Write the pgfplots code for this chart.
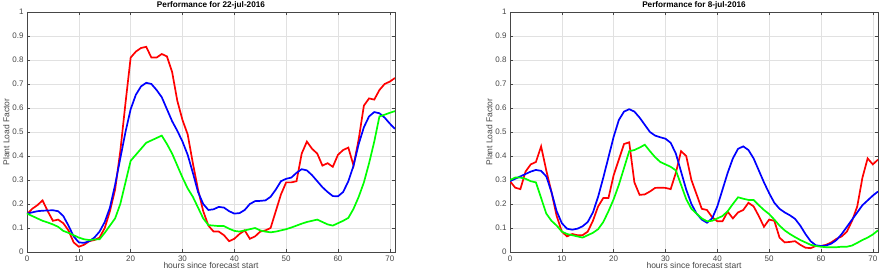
\documentclass[border=0pt]{standalone}
\usepackage{pgfplots}
\pgfplotsset{compat=1.18}
\usepackage{pgfplotstable}
\usepackage{fontspec}
\setmainfont{Liberation Sans}
\definecolor{axgray}{RGB}{70,70,70}
\definecolor{gridgray}{RGB}{225,225,225}
\pgfplotstableread{
h r b g
0 0.157 0.160 0.160
1 0.180 0.165 0.150
2 0.195 0.170 0.140
3 0.215 0.172 0.130
4 0.170 0.173 0.123
5 0.130 0.174 0.115
6 0.135 0.170 0.105
7 0.120 0.150 0.088
8 0.090 0.110 0.080
9 0.040 0.065 0.070
10 0.022 0.040 0.060
11 0.030 0.038 0.053
12 0.045 0.045 0.050
13 0.050 0.060 0.052
14 0.060 0.085 0.053
15 0.100 0.125 0.080
16 0.170 0.185 0.110
17 0.260 0.280 0.140
18 0.420 0.390 0.200
19 0.620 0.500 0.290
20 0.810 0.595 0.380
21 0.835 0.655 0.405
22 0.850 0.690 0.430
23 0.855 0.705 0.455
24 0.810 0.700 0.465
25 0.810 0.675 0.475
26 0.825 0.645 0.485
27 0.815 0.595 0.450
28 0.750 0.545 0.410
29 0.630 0.505 0.360
30 0.550 0.460 0.310
31 0.490 0.405 0.265
32 0.370 0.330 0.230
33 0.260 0.250 0.185
34 0.170 0.200 0.140
35 0.110 0.175 0.112
36 0.085 0.178 0.110
37 0.085 0.188 0.108
38 0.070 0.185 0.108
39 0.045 0.170 0.097
40 0.055 0.160 0.088
41 0.075 0.162 0.085
42 0.090 0.175 0.090
43 0.055 0.200 0.095
44 0.065 0.212 0.100
45 0.085 0.213 0.090
46 0.090 0.215 0.085
47 0.100 0.230 0.082
48 0.170 0.260 0.085
49 0.240 0.295 0.090
50 0.290 0.305 0.095
51 0.290 0.310 0.102
52 0.295 0.330 0.110
53 0.410 0.345 0.118
54 0.460 0.340 0.125
55 0.430 0.320 0.130
56 0.410 0.295 0.135
57 0.360 0.270 0.125
58 0.370 0.250 0.115
59 0.355 0.233 0.110
60 0.405 0.232 0.120
61 0.425 0.250 0.130
62 0.435 0.295 0.142
63 0.360 0.360 0.180
64 0.470 0.450 0.230
65 0.610 0.520 0.290
66 0.640 0.565 0.370
67 0.635 0.583 0.460
68 0.675 0.578 0.565
69 0.700 0.560 0.572
70 0.710 0.535 0.580
71 0.725 0.513 0.587
}\left
\pgfplotstableread{
h r b g
0 0.295 0.295 0.300
1 0.268 0.305 0.310
2 0.262 0.315 0.310
3 0.335 0.325 0.305
4 0.365 0.335 0.295
5 0.375 0.342 0.290
6 0.440 0.338 0.225
7 0.340 0.315 0.160
8 0.250 0.250 0.130
9 0.150 0.170 0.110
10 0.085 0.120 0.085
11 0.065 0.097 0.075
12 0.075 0.093 0.070
13 0.070 0.097 0.065
14 0.070 0.107 0.060
15 0.085 0.125 0.070
16 0.130 0.165 0.080
17 0.190 0.230 0.095
18 0.225 0.310 0.125
19 0.225 0.395 0.170
20 0.320 0.480 0.220
21 0.385 0.550 0.280
22 0.450 0.585 0.350
23 0.457 0.595 0.420
24 0.290 0.585 0.425
25 0.238 0.560 0.435
26 0.240 0.530 0.447
27 0.252 0.500 0.420
28 0.267 0.485 0.395
29 0.268 0.478 0.375
30 0.267 0.472 0.365
31 0.262 0.455 0.355
32 0.330 0.410 0.340
33 0.420 0.335 0.280
34 0.400 0.260 0.220
35 0.300 0.200 0.180
36 0.240 0.160 0.160
37 0.180 0.135 0.140
38 0.175 0.122 0.128
39 0.145 0.140 0.130
40 0.128 0.190 0.140
41 0.128 0.260 0.150
42 0.168 0.330 0.170
43 0.140 0.390 0.200
44 0.165 0.430 0.228
45 0.175 0.440 0.222
46 0.205 0.425 0.217
47 0.190 0.390 0.217
48 0.150 0.340 0.195
49 0.105 0.290 0.175
50 0.135 0.245 0.158
51 0.130 0.205 0.135
52 0.060 0.180 0.110
53 0.040 0.165 0.090
54 0.042 0.153 0.075
55 0.045 0.138 0.062
56 0.030 0.110 0.050
57 0.018 0.075 0.040
58 0.016 0.045 0.030
59 0.025 0.028 0.025
60 0.025 0.025 0.022
61 0.030 0.027 0.020
62 0.040 0.035 0.020
63 0.055 0.050 0.020
64 0.065 0.075 0.022
65 0.085 0.105 0.022
66 0.130 0.135 0.027
67 0.190 0.165 0.038
68 0.310 0.195 0.050
69 0.390 0.215 0.060
70 0.365 0.235 0.073
71 0.385 0.252 0.090
}\right
\pgfplotsset{
  plf/.style={
    scale only axis, width=368pt, height=240pt,
    xmin=0, xmax=71, ymin=0, ymax=1,
    xtick={0,10,...,70}, ytick={0,0.1,...,1},
    yticklabels={0,0.1,0.2,0.3,0.4,0.5,0.6,0.7,0.8,0.9,1},
    grid=major, major grid style={gridgray, line width=0.6pt},
    axis line style={axgray, line width=0.6pt},
    tick style={axgray, line width=0.6pt}, tick align=inside,
    major tick length=3pt,
    xtick pos=both, ytick pos=both,
    ticklabel style={font=\fontsize{8}{9}\selectfont, text=axgray},
    /pgf/number format/assume math mode=true,
    xlabel={hours since forecast start}, ylabel={Plant Load Factor},
    label style={font=\fontsize{8.5}{9}\selectfont, text=axgray},
    xlabel style={yshift=6pt},
    ylabel style={yshift=-4pt},
    title style={font=\bfseries\fontsize{8.2}{9}\selectfont, yshift=-7pt},
    every axis plot/.append style={line width=1.7pt, no markers},
  }
}
\begin{document}
\begin{tikzpicture}[x=1pt,y=1pt]
\useasboundingbox (0,0) rectangle (883,275);
\begin{axis}[plf, at={(27pt,23pt)}, anchor=south west, title={Performance for 22-jul-2016}]
\addplot[color={rgb,255:red,255;green,0;blue,0}] table[x=h,y=r]{\left};
\addplot[color={rgb,255:red,0;green,0;blue,255}] table[x=h,y=b]{\left};
\addplot[color={rgb,255:red,0;green,255;blue,0}] table[x=h,y=g]{\left};
\end{axis}
\begin{axis}[plf, at={(510pt,23pt)}, anchor=south west, title={Performance for 8-jul-2016}]
\addplot[color={rgb,255:red,255;green,0;blue,0}] table[x=h,y=r]{\right};
\addplot[color={rgb,255:red,0;green,0;blue,255}] table[x=h,y=b]{\right};
\addplot[color={rgb,255:red,0;green,255;blue,0}] table[x=h,y=g]{\right};
\end{axis}
\end{tikzpicture}
\end{document}
